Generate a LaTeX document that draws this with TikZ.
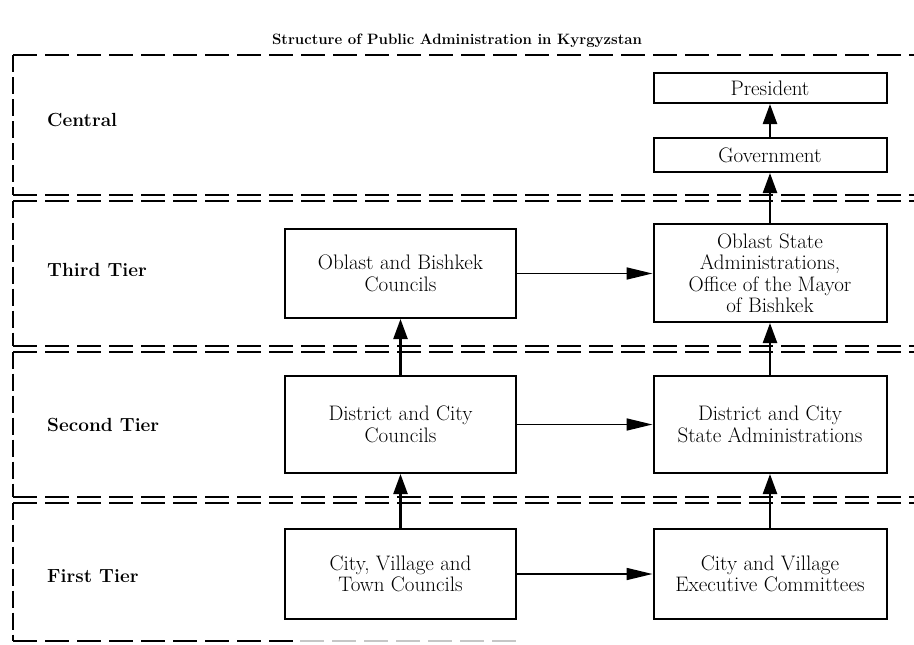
\documentclass[tikz,border=0pt]{standalone}
\usetikzlibrary{arrows.meta}
\begin{document}
\begin{tikzpicture}[x=1pt,y=-1pt,
  box/.style={draw,line width=2pt,inner sep=0pt,align=center,
    font=\fontsize{21}{21.5}\selectfont},
  lbox/.style={box,minimum width=231pt},
  rbox/.style={box,minimum width=233pt},
  hline/.style={line width=2pt,dash pattern=on 24pt off 8pt},
  vline/.style={line width=2.8pt,dash pattern=on 17pt off 5pt},
  tierlabel/.style={anchor=west,inner sep=0pt,font=\fontsize{19}{20}\selectfont\bfseries},
  varrow/.style={line width=2.4pt,-{Triangle[length=20pt,width=14pt]}},
  harrow/.style={line width=1.7pt,-{Triangle[length=26pt,width=12pt]}}
]
\useasboundingbox (0,0) rectangle (914,645);

% title
\node[font=\fontsize{15}{17}\selectfont\bfseries] (title) at (457,41)
  {Structure of Public Administration in Kyrgyzstan};

% tier frames
\foreach \t/\b in {55/195,200.5/346,351.5/497}{
  \draw[hline] (13,\t) -- (914,\t);
  \draw[hline] (13,\b) -- (914,\b);
  \draw[vline] (13,\t) -- (13,\b);
}
\draw[hline] (13,502.5) -- (914,502.5);
\draw[vline] (13,502.5) -- (13,641);
\draw[hline] (13,641) -- (300,641);
\draw[hline,gray!45] (300,641) -- (520,641);

% tier labels
\node[tierlabel] (lc) at (47,120) {Central};
\node[tierlabel] (l3) at (47,270) {Third Tier};
\node[tierlabel] (l2) at (47,425) {Second Tier};
\node[tierlabel] (l1) at (47,576) {First Tier};

% boxes
\node[rbox,minimum height=30pt] (pres) at (770,88) {President};
\node[rbox,minimum height=34pt] (gov) at (770,155) {Government};
\node[lbox,minimum height=89pt] (obc) at (400.5,273.5) {Oblast and Bishkek\\Councils};
\node[rbox,minimum height=98pt] (osa) at (770,273) {Oblast State\\Administrations,\\Office of the Mayor\\of Bishkek};
\node[lbox,minimum height=97pt] (dcc) at (400.5,424.5) {District and City\\Councils};
\node[rbox,minimum height=97pt] (dcs) at (770,424.5) {District and City\\State Administrations};
\node[lbox,minimum height=90pt] (cvt) at (400.5,574) {City, Village and\\Town Councils};
\node[rbox,minimum height=90pt] (cve) at (770,574) {City and Village\\Executive Committees};

% arrows
\draw[varrow] (gov.north) -- (pres.south);
\draw[varrow] (osa.north) -- (gov.south);
\draw[varrow] (dcs.north) -- (osa.south);
\draw[varrow] (cve.north) -- (dcs.south);
\draw[varrow] (dcc.north) -- (obc.south);
\draw[varrow] (cvt.north) -- (dcc.south);
\draw[harrow] (obc.east) -- (osa.west |- obc.east);
\draw[harrow] (dcc.east) -- (dcs.west |- dcc.east);
\draw[harrow] (cvt.east) -- (cve.west |- cvt.east);
\end{tikzpicture}
\end{document}
